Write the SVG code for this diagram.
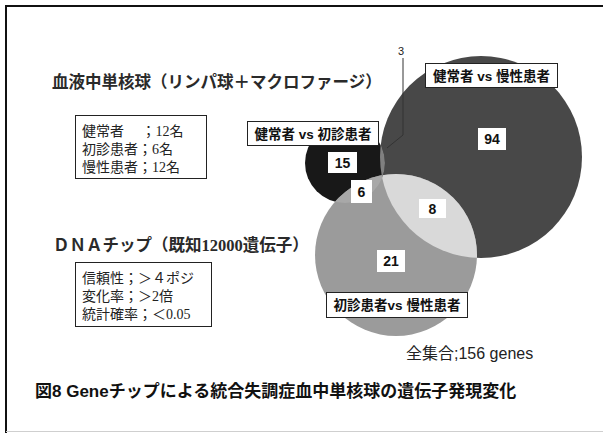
<svg xmlns="http://www.w3.org/2000/svg" width="603" height="434" viewBox="0 0 603 434">
<style>
.lbl{font-family:"Liberation Sans","Noto Sans CJK JP",sans-serif;font-weight:bold;font-size:13.5px;fill:#111;text-anchor:middle}
.num{font-family:"Liberation Sans","Noto Sans CJK JP",sans-serif;font-weight:bold;font-size:14px;fill:#111;text-anchor:middle}
.box{fill:#fff;stroke:#222;stroke-width:1}
.nbox{fill:#fff;stroke:none}
.ser{font-family:"Liberation Serif","Noto Sans CJK JP",serif;font-size:14px;fill:#222}
.ttl{font-family:"Liberation Serif","Noto Sans CJK JP",serif;font-size:16.5px;font-weight:bold;fill:#2a2a2a}
.cap{font-family:"Liberation Sans","Noto Sans CJK JP",sans-serif;font-weight:bold;font-size:17px;fill:#111}
</style>
<defs>
<clipPath id="clipA"><circle cx="481" cy="157" r="101"/></clipPath>
<clipPath id="clipB"><circle cx="345" cy="163" r="40"/></clipPath>
</defs>
<rect x="0" y="0" width="603" height="434" fill="#fff"/>
<g id="frame">
<line x1="6" y1="5" x2="6" y2="433" stroke="#111" stroke-width="2"/>
<line x1="5" y1="6" x2="603" y2="6" stroke="#111" stroke-width="2"/>
<line x1="6" y1="431.5" x2="603" y2="431.5" stroke="#cfcfcf" stroke-width="1"/>
</g>
<g id="title-blood"><text class="ttl" x="52" y="88">血液中単核球（リンパ球＋マクロファージ）</text></g>
<g id="subjects">
<rect class="box" x="75.5" y="115.5" width="131" height="63"/>
<text class="ser" x="82" y="136">健常者　 ；12名</text>
<text class="ser" x="82" y="154">初診患者；6名</text>
<text class="ser" x="82" y="172">慢性患者；12名</text>
</g>
<g id="title-dna"><text class="ttl" x="53" y="251">ＤＮＡチップ（既知12000遺伝子）</text></g>
<g id="criteria">
<rect class="box" x="75.5" y="262.5" width="136" height="64"/>
<text class="ser" x="82" y="283">信頼性；＞４ポジ</text>
<text class="ser" x="82" y="301">変化率；＞2倍</text>
<text class="ser" x="82" y="319">統計確率；＜0.05</text>
</g>
<g id="set-normal-vs-chronic"><circle cx="481" cy="157" r="101" fill="#484848"/></g>
<g id="set-normal-vs-first"><circle cx="345" cy="163" r="40" fill="#181818"/></g>
<g id="set-first-vs-chronic"><circle cx="396" cy="255" r="81" fill="#9b9b9b"/></g>
<g id="overlaps">
<circle cx="396" cy="255" r="81" fill="#d9d9d9" clip-path="url(#clipA)"/>
<circle cx="396" cy="255" r="81" fill="#a8a8a8" clip-path="url(#clipB)"/>
<circle cx="345" cy="163" r="40" fill="#808080" clip-path="url(#clipA)"/>
</g>
<g id="connectors">
<polyline points="403,58 403,135 387,148" fill="none" stroke="#333" stroke-width="1"/>
</g>
<g id="label-3"><text x="401" y="55" font-family="Liberation Sans, sans-serif" font-size="11" fill="#222" text-anchor="middle">3</text></g>
<g id="label-normal-vs-first">
<rect class="box" x="247.5" y="121.5" width="131" height="24"/>
<text class="lbl" x="313" y="138.5">健常者 vs 初診患者</text>
</g>
<g id="label-normal-vs-chronic">
<rect class="box" x="425.5" y="63.5" width="132" height="24"/>
<text class="lbl" x="491.5" y="80.5">健常者 vs 慢性患者</text>
</g>
<g id="label-first-vs-chronic">
<rect class="box" x="326.5" y="292.5" width="141" height="25"/>
<text class="lbl" x="397" y="310">初診患者vs 慢性患者</text>
</g>
<g id="n15"><rect class="nbox" x="328" y="152" width="29" height="21"/><text class="num" x="342.5" y="167.5">15</text></g>
<g id="n6"><rect class="nbox" x="351" y="180" width="21" height="23"/><text class="num" x="361.5" y="196.5">6</text></g>
<g id="n94"><rect class="nbox" x="478" y="128" width="28" height="22"/><text class="num" x="492" y="144">94</text></g>
<g id="n8"><rect class="nbox" x="419" y="199" width="27" height="19"/><text class="num" x="432.5" y="213.5">8</text></g>
<g id="n21"><rect class="nbox" x="377" y="250" width="28" height="22"/><text class="num" x="391" y="266">21</text></g>
<g id="total"><text x="406" y="359" font-family="Liberation Sans, Noto Sans CJK JP, sans-serif" font-size="16" fill="#222">全集合;156 genes</text></g>
<g id="caption"><text class="cap" x="35" y="396.5">図8 Geneチップによる統合失調症血中単核球の遺伝子発現変化</text></g>
</svg>
